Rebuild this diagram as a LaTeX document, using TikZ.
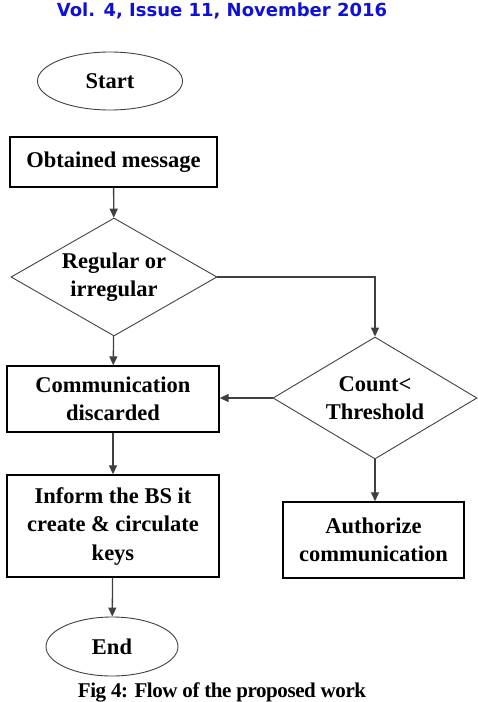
\documentclass[tikz,border=0pt]{standalone}
\usepackage{fontspec}
\setmainfont{Liberation Serif}
\newfontfamily\hdrfont{DejaVu Sans}
\newfontfamily\capfont[LetterSpace=-2]{Liberation Serif}
\usetikzlibrary{arrows.meta,shapes.geometric}
\definecolor{hdrblue}{HTML}{1010D8}
\definecolor{linec}{HTML}{404040}
\tikzset{
  boxtxt/.style={font=\fontsize{22.5}{28.5}\selectfont\bfseries,align=center,inner sep=0pt},
  procbox/.style={boxtxt,draw=black,line width=1.4pt,rectangle},
  decbox/.style={boxtxt,draw=linec,line width=0.9pt,diamond,aspect=1.75,minimum width=206pt,minimum height=118pt},
  termbox/.style={boxtxt,draw=linec,line width=0.9pt,ellipse},
  flow/.style={draw=linec,line width=1.3pt,-{Triangle[length=9pt,width=8pt]}}
}

\begin{document}
\begin{tikzpicture}[x=1pt,y=-1pt]
\useasboundingbox (0,0) rectangle (478,702);
\node[font=\hdrfont\fontsize{18}{20}\selectfont\bfseries,hdrblue] (hdr) at (222,11){Vol. 4, Issue 11, November 2016};
% terminals and steps
\node[termbox,minimum width=145pt,minimum height=58pt] (start) at (110,81){Start};
\node[procbox,minimum width=207pt,minimum height=50pt] (obtmsg) at (113.5,162){Obtained message};
\node[decbox] (regdec) at (114,277){Regular or\\irregular};
\node[decbox,minimum width=204pt,minimum height=122pt] (cntdec) at (375,398){Count<\\Threshold};
\node[procbox,minimum width=212pt,minimum height=66pt] (discard) at (113,399){Communication\\discarded};
\node[procbox,minimum width=212pt,minimum height=102pt] (inform) at (113,526){Inform the BS it\\create \& circulate\\keys};
\node[procbox,minimum width=181pt,minimum height=76pt] (authorize) at (373.5,540){Authorize\\communication};
\node[termbox,minimum width=132pt,minimum height=59pt] (stop) at (112,646.5){End};
\node[font=\capfont\fontsize{21}{22}\selectfont\bfseries] (cap) at (222,692){Fig 4: Flow of the proposed work};
% connectors
\draw[flow] (obtmsg) -- (regdec);
\draw[flow] (regdec.east) -| (cntdec.north);
\draw[flow] (regdec) -- (discard);
\draw[flow] (cntdec.west) -- (cntdec.west -| discard.east);
\draw[flow] (discard) -- (inform);
\draw[flow] (cntdec.south) -- (cntdec.south |- authorize.north);
\draw[flow] (inform) -- (stop);
\end{tikzpicture}
\end{document}
